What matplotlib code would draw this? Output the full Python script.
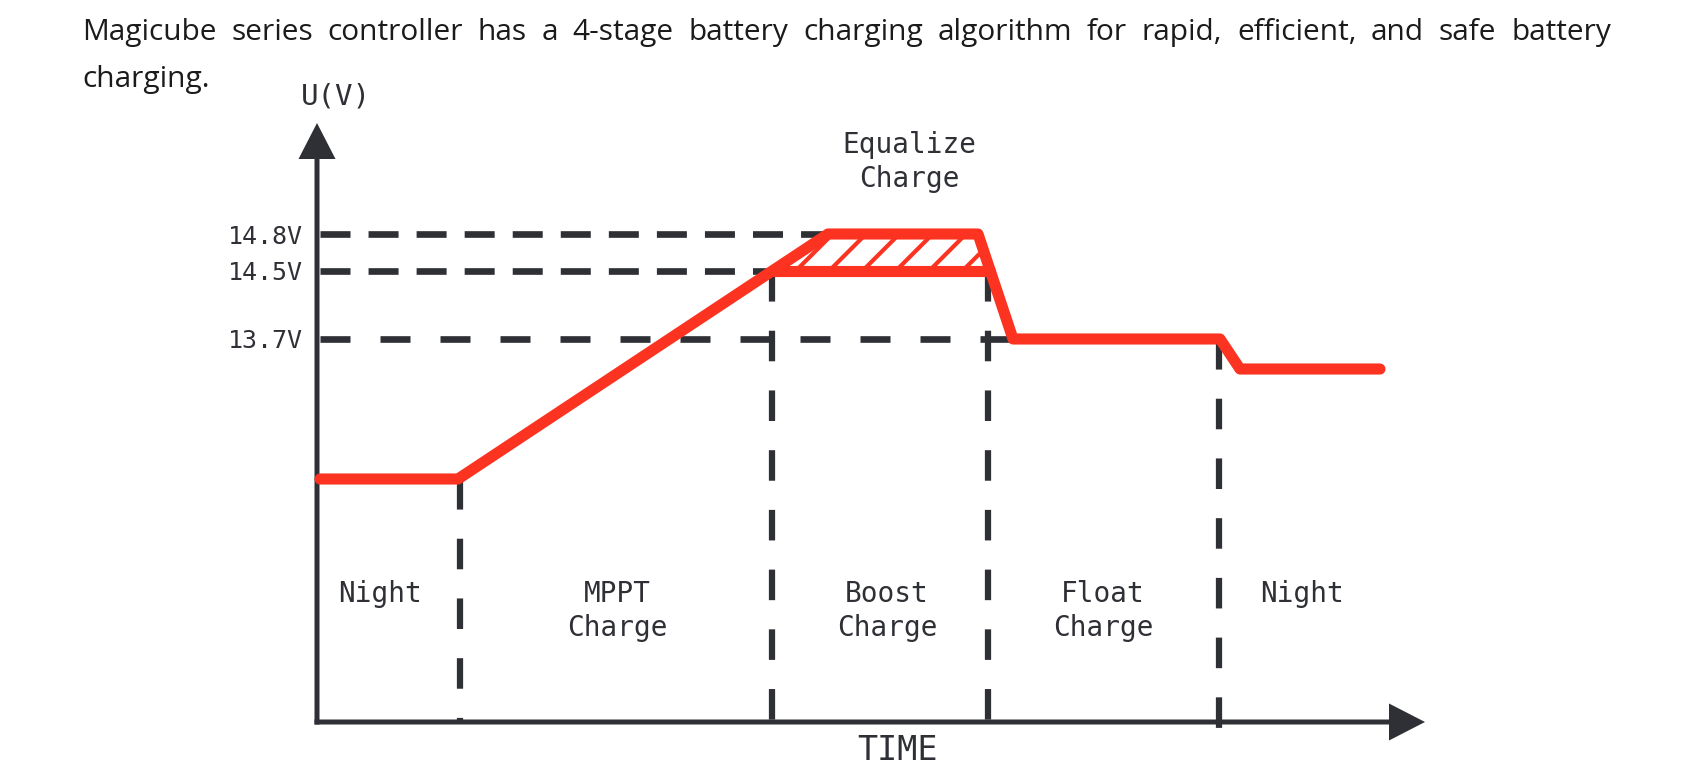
import matplotlib
matplotlib.use('Agg')
import matplotlib.pyplot as plt

plt.rcParams['lines.scale_dashes'] = False
plt.rcParams['hatch.linewidth'] = 3

# ---- data (diagram units) ----
intro_1 = ("Magicube series controller has a 4-stage battery charging "
           "algorithm for rapid, efficient, and safe battery")
intro_2 = "charging."

t_curve = [3, 141, 511, 661, 696, 903, 923, 1063]
u_curve = [243, 243, 488, 488, 383, 383, 353, 353]

u_levels = [488, 451, 383]
u_labels = ['14.8V', '14.5V', '13.7V']
level_ends = [511, 455, 693]

stage_bounds = [143, 455, 671, 902]
stage_tops = [243, 451, 451, 383]
stage_names = ['Night', 'MPPT\nCharge', 'Boost\nCharge', 'Float\nCharge', 'Night']
stage_centers = [63, 300, 570, 786, 985]

eq_t = [455, 511, 661, 673]
eq_u = [451, 488, 488, 451]

red = '#fb3320'
dark = '#2e3035'
mono = 'DejaVu Sans Mono'


def stacked(ax, x, y, s, **kw):
    # first line baseline at y, following lines 34 px lower
    for i, line in enumerate(s.split('\n')):
        ax.text(x, y - 34 * i, line, ha='center', va='baseline', **kw)


fig = plt.figure(figsize=(17.05, 7.77), dpi=100)
ax = fig.add_axes([0, 0, 1, 1])
ax.set_xlim(-317, 1705 - 317)
ax.set_ylim(-55, 722)
ax.axis('off')

# axes with arrows
ax.arrow(-2.5, 0, 1110.5, 0, width=5, head_width=37, head_length=36,
         length_includes_head=True, fc=dark, ec='none', zorder=3)
ax.arrow(0, -2.5, 0, 601.5, width=5, head_width=37, head_length=36,
         length_includes_head=True, fc=dark, ec='none', zorder=3)

# voltage reference lines
for u, end, lab in zip(u_levels, level_ends, u_labels):
    dash = (21.6, 21.6) if lab == '13.7V' else (21.6, 13)
    ax.plot([3, end], [u, u], color=dark, lw=4.8, dashes=dash,
            solid_capstyle='butt', zorder=1)
    ax.text(-14, u, lab, ha='right', va='center_baseline', fontsize=18,
            family=mono, color=dark)

# stage boundaries
for t, top in zip(stage_bounds, stage_tops):
    bottom = -8 if t == stage_bounds[-1] else 0
    ax.plot([t, t], [top, bottom], color=dark, lw=4.5, dashes=(22, 21),
            zorder=1)

# equalize zone
ax.fill(eq_t, eq_u, facecolor='white', edgecolor=red, hatch='/',
        linewidth=0, zorder=2)
ax.plot([eq_t[0], eq_t[-1]], [eq_u[0], eq_u[-1]], color=red, lw=8,
        solid_capstyle='round', zorder=4)

# charging curve
ax.plot(t_curve, u_curve, color=red, lw=8, solid_capstyle='round',
        solid_joinstyle='round', zorder=4)

# labels
for x, name in zip(stage_centers, stage_names):
    stacked(ax, x, 120, name, fontsize=20, family=mono, color=dark)
stacked(ax, 592, 569, 'Equalize\nCharge', fontsize=20, family=mono,
        color=dark)
ax.text(19, 625, 'U(V)', ha='center', va='center', fontsize=21,
        family=mono, color=dark)
ax.text(581, -28, 'TIME', ha='center', va='center', fontsize=24,
        family=mono, color=dark)

# justified intro paragraph
renderer = fig.canvas.get_renderer()
words = intro_1.split()
x_left, x_right, base_1 = -235, 1294, 682
objs = [ax.text(0, base_1, w, fontsize=21.5, family='Open Sans',
                color='#1b1b1b', va='baseline') for w in words]
widths = [o.get_window_extent(renderer).width for o in objs]
gap = (x_right - x_left - sum(widths)) / (len(words) - 1)
x = x_left
for o, w in zip(objs, widths):
    o.set_x(x)
    x += w + gap
ax.text(x_left, 635, intro_2, fontsize=21.5, family='Open Sans',
        color='#1b1b1b', va='baseline')

fig.savefig('out.png', dpi=100)
